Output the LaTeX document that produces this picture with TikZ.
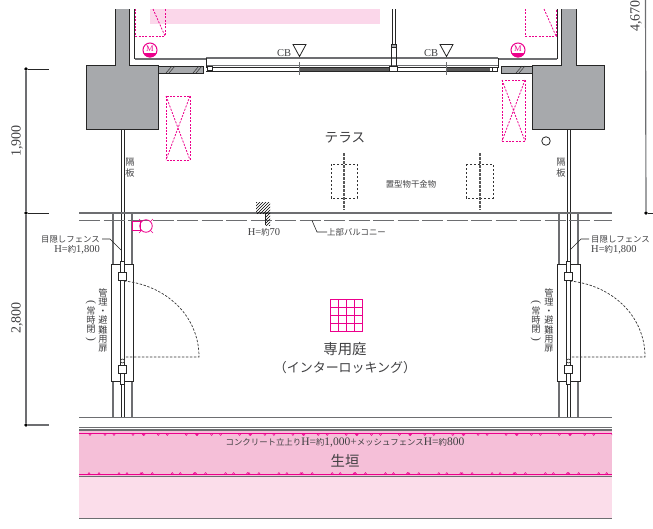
\documentclass[tikz,border=0pt]{standalone}
\usepackage{fontspec}
\setmainfont{Liberation Serif}
\newfontfamily\cjk[Scale=0.8]{Noto Sans CJK JP}
\usepackage{xcolor}
\usetikzlibrary{positioning,patterns}
\definecolor{wallgray}{HTML}{A7A9AC}
\definecolor{linegray}{HTML}{6D6E71}
\definecolor{inkgray}{HTML}{3F3F41}
\definecolor{magline}{HTML}{EC008C}
\definecolor{hedgepink}{HTML}{F5BFD8}
\definecolor{palepink}{HTML}{FBDDEA}
\newcommand{\jp}[1]{{\cjk #1}}
\newcommand{\jps}[1]{{\fontsize{10.5}{10.5}\selectfont\cjk #1}}
\newcommand{\fsz}[1]{\fontsize{#1}{#1}\selectfont}
\newcommand{\vparen}[1]{\rotatebox[origin=c]{-90}{#1}}
\tikzset{
  wall/.style={draw=black!85,fill=wallgray,line width=1pt},
  glines/.style={draw=linegray,line width=1.15pt},
  dline/.style={draw=black!85,line width=0.8pt},
  pinkdash/.style={draw=magline,line width=0.8pt,dash pattern=on 2pt off 1.4pt},
  blackdash/.style={draw=black!80,line width=0.7pt,dash pattern=on 2.4pt off 1.6pt},
  lbl/.style={text=inkgray,inner sep=0pt,font=\fsz{10.5}},
  bigl/.style={text=inkgray,inner sep=0pt,font=\fsz{18}},
  dimt/.style={text=inkgray,inner sep=0pt,rotate=90,font=\fsz{14}},
  dimdot/.style={circle,fill=black,inner sep=0pt,minimum size=3.6pt},
  vlbl/.style={text=inkgray,inner sep=0pt,align=center,font=\fontsize{11.5}{9.3}\selectfont},
  hinge/.style={draw=black!85,fill=white,line width=0.8pt,minimum size=8pt,inner sep=0pt},
  motor/.style={circle,draw=magline,fill=white,line width=1pt,minimum size=14pt,inner sep=0pt}
}
\begin{document}
\begin{tikzpicture}[x=1pt,y=-1pt]
    \useasboundingbox (0,0) rectangle (653,528);

    % bands
    \fill[palepink!85!magline!60] (150,9) rectangle (380,24);
    \fill[hedgepink] (79,431) rectangle (612,476);
    \fill[palepink] (79,476) rectangle (612,518);

    % walls
    \draw[wall] (115,9) -- (115,65) -- (86,65) -- (86,129) -- (158,129) -- (158,65) -- (129,65) -- (129,9);
    \draw[wall] (561,9) -- (561,65) -- (532,65) -- (532,129) -- (604,129) -- (604,65) -- (576,65) -- (576,9);
    \draw[dline] (134.5,9) -- (134.5,59);
    \draw[dline] (557,9) -- (557,59);
    \draw[glines] (134.5,59) -- (206,59);
    \draw[glines] (498,59) -- (557,59);

    % sills
    \draw[wall,line width=0.7pt] (158,66) rectangle (203,73);
    \draw[wall,line width=0.7pt] (501,66) rectangle (532,73);
    \draw[black!80,line width=0.5pt] (166,73) -- (172,66) (169,73) -- (175,66);
    \draw[black!80,line width=0.5pt] (193,73) -- (199,66) (196,73) -- (202,66);
    \draw[black!80,line width=0.5pt] (516,73) -- (522,66) (519,73) -- (525,66);

    % sash
    \draw[glines] (206,58) -- (498,58);
    \draw[glines,line width=0.6pt] (206,65) -- (498,65);
    \draw[dline,line width=1pt] (206,58) -- (206,68);
    \draw[dline,line width=1pt] (498,58) -- (498,68);
    \draw[dline] (206,67) -- (498,67);
    \draw[dline] (206,71) -- (498,71);
    \fill[black!65] (299,67.5) rectangle (392,70.5);
    \fill[black!65] (447,67.5) rectangle (490,70.5);
    \draw[dline,fill=white,line width=0.5pt] (207,66) rectangle (212,70);
    \draw[dline,fill=white,line width=0.5pt] (492,67) rectangle (497,71);

    % mullion
    \draw[dline,line width=0.6pt] (392,9) -- (392,44);
    \draw[dline,line width=0.6pt] (395,9) -- (395,44);
    \draw[dline,fill=wallgray,line width=0.5pt] (391,44) rectangle (396.5,47);
    \draw[dline,line width=0.6pt] (391.5,47) -- (391.5,67);
    \draw[dline,line width=0.6pt] (396,47) -- (396,67);
    \draw[dline,fill=white,line width=0.5pt] (389,66) rectangle (397,71);

    % breakers
    \node[lbl] (cbl) at (284,53) {CB};
    \node[lbl] (cbr) at (431,53) {CB};
    \draw[dline] (293,44.5) -- (306,44.5) -- (299.5,56.5) -- cycle;
    \draw[dline] (440,44.5) -- (453,44.5) -- (446.5,56.5) -- cycle;
    \draw[linegray,line width=0.6pt] (299,62) -- (299,75);
    \draw[linegray,line width=0.6pt] (446.5,62) -- (446.5,75);

    % meters
    \node[motor] (ml) at (150,50) {};
    \node[motor] (mr) at (518,50) {};
    \begin{scope}
    \clip (140,53) rectangle (160,60) (508,53) rectangle (528,60);
    \fill[magline] (ml.center) circle[radius=7.4];
    \fill[magline] (mr.center) circle[radius=7.4];
    \end{scope}
    \node[text=magline,inner sep=0pt,font=\fsz{8.5}] (mlt) at (150,49) {M};
    \node[text=magline,inner sep=0pt,font=\fsz{8.5}] (mrt) at (518,49) {M};

    % pink boxes
    \draw[pinkdash] (135,9) -- (135,36) -- (165,36) -- (165,9);
    \draw[pinkdash] (153,9) -- (165,36);
    \draw[pinkdash] (525,9) -- (525,36) -- (556,36) -- (556,9);
    \draw[pinkdash] (544,9) -- (556,36);
    \draw[pinkdash] (166,96) rectangle (190,160);
    \draw[pinkdash] (166,96) -- (190,160) (190,96) -- (166,160);
    \draw[pinkdash] (502,80) rectangle (525,141);
    \draw[pinkdash] (502,80) -- (525,141) (525,80) -- (502,141);

    \node[circle,draw=black!85,line width=0.8pt,minimum size=8.5pt,inner sep=0pt] (hole) at (546,141) {};

    % partitions
    \draw[glines] (113,213) -- (113,417);
    \draw[glines] (132,213) -- (132,417);
    \draw[glines] (559,213) -- (559,417);
    \draw[glines] (578,213) -- (578,417);
    \draw[dline] (121,129) -- (121,417);
    \draw[dline] (124,129) -- (124,417);
    \draw[dline] (567,129) -- (567,417);
    \draw[dline] (570,129) -- (570,417);

    % balcony lines
    \draw[glines] (79,213) -- (612,213);
    \draw[glines,dash pattern=on 21pt off 3.5pt] (79,220.5) -- (612,220.5);
    \fill[pattern=north east lines] (256,202) rectangle (270,213);
    \fill[pattern=north east lines] (265,213) rectangle (270,225);
    \draw[dline,line width=0.9pt] (265,213) -- (265,225);

    % drying hardware
    \draw[blackdash] (331,164) rectangle (357,198);
    \draw[blackdash] (466,164) rectangle (493,198);
    \draw[draw=black!65,line width=2pt,dash pattern=on 3pt off 1pt] (343.5,153) -- (343.5,210);
    \draw[draw=black!65,line width=2pt,dash pattern=on 3pt off 1pt] (479.5,153) -- (479.5,210);

    % outdoor tap
    \draw[draw=magline,line width=0.8pt] (132,221.5) rectangle (140,230);
    \node[circle,draw=magline,line width=0.8pt,minimum size=12.5pt,inner sep=0pt] (tap) at (146,226) {};
    \draw[magline,line width=0.5pt] (139,219) -- (141.5,221.5) (153,219) -- (150.5,221.5) (139,233) -- (141.5,230.5) (153,233) -- (150.5,230.5);

    % door left
    \draw[dline,fill=white] (111,264) rectangle (133.5,381);
    \draw[dline,fill=white,line width=0.6pt] (120.5,261) rectangle (124.5,384);
    \node[hinge] (hl1) at (122.5,276) {};
    \node[hinge] (hl2) at (122.5,369) {};
    \node[circle,draw=black!85,fill=white,line width=0.6pt,minimum size=4pt,inner sep=0pt] (pl) at (122.5,361) {};
    \draw[blackdash] (124,281) .. controls (165,285) and (199,315) .. (199,357) -- (124,357);

    % door right
    \draw[dline,fill=white] (557,264) rectangle (580,381);
    \draw[dline,fill=white,line width=0.6pt] (566.5,261) rectangle (570.5,384);
    \node[hinge] (hr1) at (568.5,276) {};
    \node[hinge] (hr2) at (568.5,369) {};
    \node[circle,draw=black!85,fill=white,line width=0.6pt,minimum size=4pt,inner sep=0pt] (pr) at (568.5,361) {};
    \draw[blackdash] (570,281) .. controls (611,285) and (645,315) .. (645,357) -- (570,357);

    % tiles
    \draw[draw=magline,line width=0.7pt] (330,299) rectangle (362,331);
    \foreach \g in {8,16,24}{
      \draw[draw=magline,line width=0.7pt] (330+\g,299) -- (330+\g,331);
      \draw[draw=magline,line width=0.7pt] (330,299+\g) -- (362,299+\g);
    }

    % ground
    \draw[glines] (79,417.5) -- (612,417.5);
    \draw[glines] (79,427.5) -- (612,427.5);
    \draw[glines] (79,430) -- (612,430);
    \draw[glines] (79,476.5) -- (612,476.5);
    \draw[glines] (79,518.5) -- (612,518.5);

    % hedge
    \draw[magline,line width=0.8pt] (79,433.5) -- (612,433.5);
    \draw[magline,line width=0.8pt] (79,474.5) -- (612,474.5);
    \begin{scope}
    \clip (79,430) rectangle (612,477);
    \foreach \k in {0,...,10}{
      \foreach \a in {13,28,37,56,67}{
        \draw[magline,line width=0.5pt] ({77+53.3*\k+\a-1.5},433.5) -- ({77+53.3*\k+\a},435.5) -- ({77+53.3*\k+\a+1.5},433.5);
      }
      \foreach \a in {20,30,50,58,72}{
        \draw[magline,line width=0.5pt] ({69+53.3*\k+\a-1.5},474.5) -- ({69+53.3*\k+\a},472.5) -- ({69+53.3*\k+\a+1.5},474.5);
      }
    }
    \end{scope}

    % dimensions
    \node[dimdot] (dl1) at (26,69) {};
    \node[dimdot] (dl2) at (26,213) {};
    \node[dimdot] (dl3) at (26,425) {};
    \coordinate (tl1) at (49,69);
    \coordinate (tl2) at (49,213);
    \coordinate (tl3) at (49,425);
    \draw[dline] (dl1) -- (tl1);
    \draw[dline] (dl2) -- (tl2);
    \draw[glines] (dl3) -- (tl3);
    \draw[glines] (dl1) -- (dl2);
    \draw[glines] (dl2) -- (dl3);
    \node[dimdot] (dr1) at (646,213) {};
    \coordinate (tr0) at (645.5,0);
    \coordinate (tr1) at (653,213);
    \draw[glines] (tr0) -- (dr1);
    \draw[dline] (dr1) -- (tr1);
    \node[dimt] (d1900) at (17,141) {1,900};
    \node[dimt] (d2800) at (17,318) {2,800};
    \node[dimt] (d4670) at (636,16) {4,670};

    % labels
    \node[bigl,font=\fsz{17}] (terrace) at (345,138) {\jp{テラス}};
    \node[lbl] (hanger) at (411,184) {\jp{置型物干金物}};
    \node[lbl] (h70) at (264,232) {H=\jp{約}70};
    \node[lbl,anchor=west] (upper) at (327,232) {\jp{上部バルコニー}};
    \coordinate (up1) at (312,220.5);
    \coordinate (up2) at (317,232);
    \draw[dline,line width=0.6pt] (up1) -- (up2) -- (upper.west);
    \node[vlbl,font=\fontsize{11.5}{11}\selectfont] (pl1) at (130,168) {\jp{隔}\\\jp{板}};
    \node[vlbl,font=\fontsize{11.5}{11}\selectfont] (pl2) at (561,168) {\jp{隔}\\\jp{板}};
    \node[bigl] (garden) at (345,349) {\jp{専用庭}};
    \node[bigl,font=\fsz{16.2}] (paving) at (345,368) {\jp{（インターロッキング）}};
    \node[bigl] (hedge) at (345,461) {\jp{生垣}};
    \node[lbl,font=\fsz{11.5}] (curb) at (345,443) {\jps{コンクリート立上り}H=\jps{約}1,000+\jps{メッシュフェンス}H=\jps{約}800};

    \node[lbl,anchor=east] (fl1) at (100,239) {\jp{目隠しフェンス}};
    \node[lbl,anchor=east] (fl2) at (100,250) {H=\jp{約}1,800};
    \coordinate (fl3) at (110,239);
    \coordinate (fl4) at (121,250);
    \draw[dline,line width=0.6pt] (fl1.east) ++(2,0) -- (fl3) -- (fl4);
    \node[lbl,anchor=west] (fr1) at (591,239) {\jp{目隠しフェンス}};
    \node[lbl,anchor=west] (fr2) at (591,250) {H=\jp{約}1,800};
    \coordinate (fr3) at (581,239);
    \coordinate (fr4) at (570,250);
    \draw[dline,line width=0.6pt] (fr1.west) ++(-2,0) -- (fr3) -- (fr4);

    \node[vlbl] (dl) at (103,320.5) {\jp{管}\\\jp{理}\\\jp{・}\\\jp{避}\\\jp{難}\\\jp{用}\\\jp{扉}};
    \node[vlbl] (dc) at (91,321) {\vparen{(}\\\jp{常}\\\jp{時}\\\jp{閉}\\\vparen{)}};
    \node[vlbl] (dr) at (549,320.5) {\jp{管}\\\jp{理}\\\jp{・}\\\jp{避}\\\jp{難}\\\jp{用}\\\jp{扉}};
    \node[vlbl] (dd) at (536,321) {\vparen{(}\\\jp{常}\\\jp{時}\\\jp{閉}\\\vparen{)}};
\end{tikzpicture}
\end{document}
